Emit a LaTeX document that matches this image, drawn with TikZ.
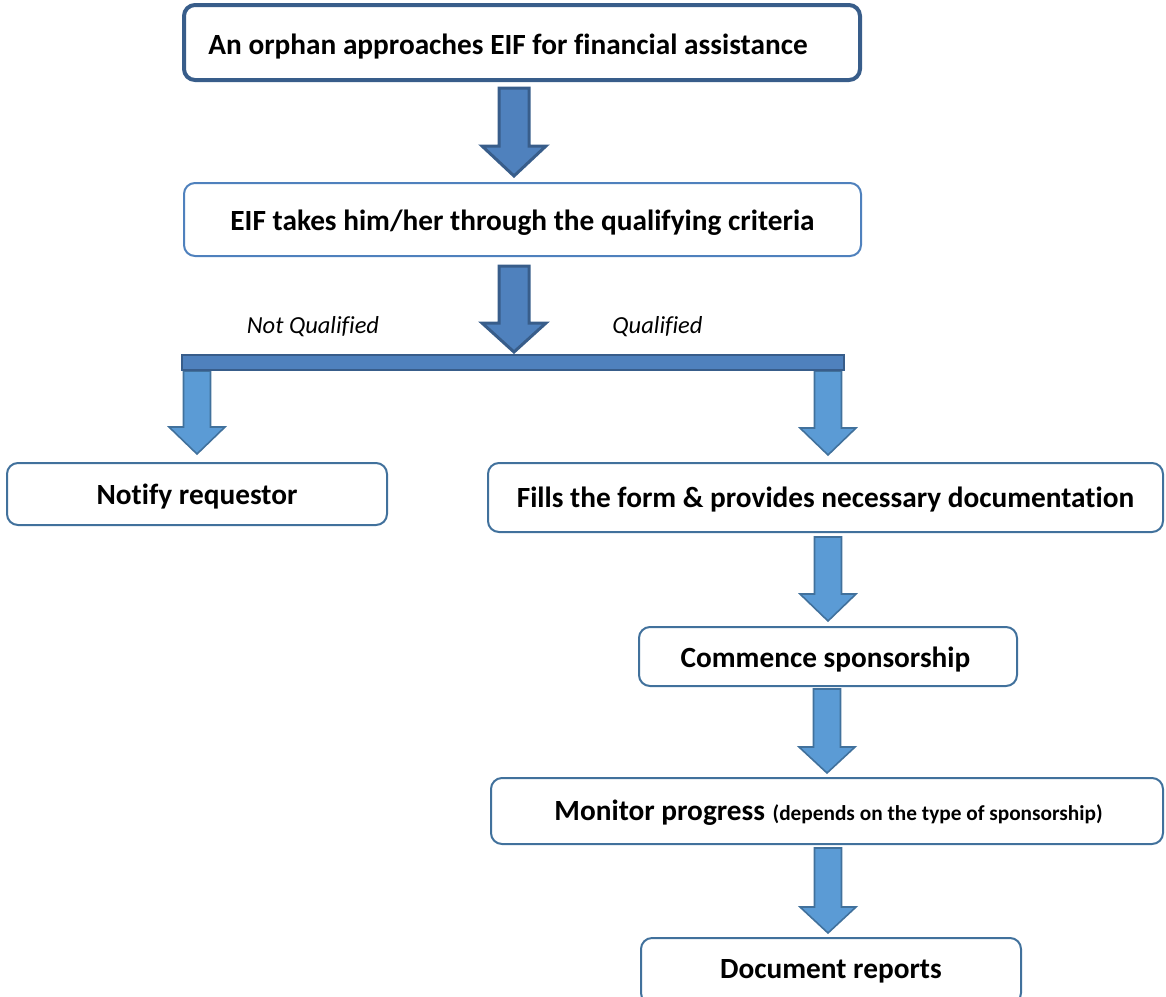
\documentclass[tikz,border=0pt]{standalone}
\usepackage{fontspec}
\setmainfont{Carlito}[Ligatures=NoCommon]
\definecolor{darkb}{RGB}{56,93,138}
\definecolor{midb}{RGB}{79,129,189}
\definecolor{lightb}{RGB}{91,155,213}
\definecolor{lineb}{RGB}{65,113,156}
\newcommand{\lowr}[2]{\raisebox{-#1}[\height][\depth]{#2}}
\tikzset{
  box/.style={draw=lineb, line width=2pt, rounded corners=11pt, fill=white, inner sep=0pt, font=\bfseries\fontsize{29.3}{34}\selectfont},
  topbox/.style={box, draw=darkb, line width=4pt},
  arrowA/.style={fill=midb, draw=darkb, line width=3pt, line join=miter},
  arrowB/.style={fill=lightb, draw=lineb, line width=1.6pt, line join=miter},
  lbl/.style={font=\itshape\fontsize{24.5}{28}\selectfont, inner sep=0pt}
}
% \barrow{style}{cx}{ytop}{yhead}{ytip}{halfshaft}{halfhead}
\newcommand{\barrow}[7]{%
  \draw[#1] (#2-#6,#3) -- (#2+#6,#3) -- (#2+#6,#4) -- (#2+#7,#4) -- (#2,#5) -- (#2-#7,#4) -- (#2-#6,#4) -- cycle;}
\begin{document}
\begin{tikzpicture}[x=1pt,y=-1pt]
\useasboundingbox (0,0) rectangle (1166,996);
\begin{scope}
\clip (0,0) rectangle (1166,996);
% boxes
\node[topbox, minimum width=676pt, minimum height=75pt] (top) at (522,42.5) {\lowr{4pt}{An orphan approaches EIF for financial assistance}\kern28pt};
\node[box, draw=midb, minimum width=677pt, minimum height=73pt] (crit) at (522.5,219.5) {\lowr{3pt}{EIF takes him/her through the qualifying criteria}};
\node[box, minimum width=380pt, minimum height=62pt] (notify) at (197,494) {\lowr{3pt}{Notify requestor}};
\node[box, minimum width=675pt, minimum height=69pt] (fills) at (825.5,497.5) {\lowr{2pt}{Fills the form \& provides necessary documentation}};
\node[box, minimum width=378pt, minimum height=59pt] (comm) at (828,656.5) {\lowr{3pt}{Commence sponsorship}\kern5pt};
\node[box, minimum width=672pt, minimum height=66pt] (mon) at (827,811) {\lowr{2pt}{Monitor progress\kern1pt{} {\fontsize{21.3}{24}\selectfont (depends on the type of sponsorship)}}\kern-3pt};
\node[box, minimum width=380pt, minimum height=66pt, anchor=north] (docs) at (831,937) {\lowr{0pt}{Document reports}};
% top block arrows
\barrow{arrowA}{514}{88}{146}{176}{15}{32}
\barrow{arrowA}{514}{266}{323}{352}{15}{32}
% branch arrows
\barrow{arrowB}{197}{371}{427}{454}{13.5}{28}
\barrow{arrowB}{828}{371}{428}{455}{13.5}{28}
% bar
\draw[fill=midb, draw=darkb, line width=2.5pt] (182,355) rectangle (844,370);
% lower arrows
\barrow{arrowB}{828}{537}{594}{621}{13.5}{28}
\barrow{arrowB}{827}{689}{747}{773}{13.5}{28}
\barrow{arrowB}{828}{848}{907}{933}{13.5}{28}
% labels
\node[lbl] (nq) at (313,327) {Not Qualified};
\node[lbl] (q) at (657.5,327) {Qualified};
\end{scope}
\end{tikzpicture}
\end{document}
